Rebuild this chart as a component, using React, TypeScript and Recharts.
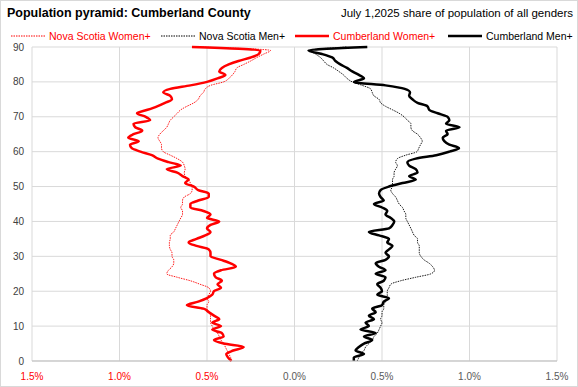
import { LineChart, Line, XAxis, YAxis, CartesianGrid } from 'recharts'

const AGES = Array.from({ length: 91 }, (_, i) => i)

// share of total population (%), ages 0..90; women drawn on the negative side
const CUMBERLAND_WOMEN = [
  -0.36, -0.38, -0.39, -0.35, -0.29, -0.405, -0.46, -0.405, -0.415, -0.47,
  -0.42, -0.47, -0.43, -0.46, -0.49, -0.52, -0.615, -0.55, -0.5, -0.47,
  -0.46, -0.42, -0.44, -0.415, -0.45, -0.46, -0.42, -0.335, -0.365, -0.42,
  -0.48, -0.48, -0.49, -0.56, -0.605, -0.56, -0.51, -0.48, -0.5, -0.48,
  -0.43, -0.5, -0.48, -0.52, -0.595, -0.595, -0.55, -0.49, -0.49, -0.55,
  -0.575, -0.625, -0.605, -0.64, -0.67, -0.73, -0.65, -0.72, -0.78, -0.815,
  -0.88, -0.93, -0.94, -0.89, -0.95, -0.92, -0.87, -0.91, -0.92, -0.825,
  -0.85, -0.9, -0.84, -0.785, -0.74, -0.7, -0.71, -0.75, -0.71, -0.595,
  -0.5, -0.44, -0.395, -0.43, -0.415, -0.376, -0.32, -0.25, -0.204, -0.195,
  -0.586,
]

const NS_WOMEN = [
  -0.36, -0.365, -0.375, -0.385, -0.395, -0.405, -0.42, -0.43, -0.44, -0.46,
  -0.47, -0.48, -0.48, -0.48, -0.49, -0.5, -0.5, -0.49, -0.5, -0.49,
  -0.48, -0.49, -0.54, -0.595, -0.67, -0.73, -0.72, -0.7, -0.69, -0.69,
  -0.7, -0.7, -0.71, -0.715, -0.715, -0.71, -0.71, -0.69, -0.68, -0.67,
  -0.66, -0.65, -0.64, -0.64, -0.65, -0.64, -0.64, -0.63, -0.595, -0.585,
  -0.585, -0.595, -0.605, -0.625, -0.63, -0.625, -0.63, -0.64, -0.67, -0.71,
  -0.75, -0.76, -0.76, -0.77, -0.78, -0.77, -0.75, -0.73, -0.72, -0.71,
  -0.69, -0.67, -0.65, -0.615, -0.575, -0.55, -0.54, -0.52, -0.51, -0.48,
  -0.405, -0.375, -0.355, -0.34, -0.33, -0.29, -0.25, -0.215, -0.175, -0.137,
  -0.55,
]

const CUMBERLAND_MEN = [
  0.339, 0.339, 0.397, 0.349, 0.368, 0.397, 0.444, 0.397, 0.464, 0.377,
  0.425, 0.406, 0.454, 0.425, 0.464, 0.444, 0.5, 0.51, 0.54, 0.473,
  0.5, 0.492, 0.473, 0.51, 0.52, 0.464, 0.52, 0.483, 0.464, 0.52,
  0.54, 0.52, 0.54, 0.56, 0.53, 0.54, 0.483, 0.425, 0.54, 0.56,
  0.57, 0.55, 0.52, 0.53, 0.5, 0.454, 0.51, 0.492, 0.483, 0.492,
  0.54, 0.617, 0.693, 0.655, 0.703, 0.693, 0.655, 0.645, 0.693, 0.81,
  0.885, 0.94, 0.885, 0.856, 0.847, 0.875, 0.866, 0.943, 0.866, 0.885,
  0.875, 0.818, 0.77, 0.76, 0.703, 0.674, 0.655, 0.66, 0.63, 0.52,
  0.34, 0.397, 0.368, 0.33, 0.3, 0.262, 0.234, 0.215, 0.157, 0.08,
  0.416,
]

const NS_MEN = [
  0.358, 0.368, 0.377, 0.397, 0.406, 0.425, 0.444, 0.454, 0.473, 0.483,
  0.492, 0.5, 0.492, 0.5, 0.5, 0.51, 0.51, 0.52, 0.53, 0.53,
  0.53, 0.54, 0.55, 0.607, 0.693, 0.78, 0.8, 0.79, 0.77, 0.74,
  0.722, 0.713, 0.713, 0.713, 0.703, 0.703, 0.684, 0.674, 0.665, 0.655,
  0.645, 0.636, 0.636, 0.626, 0.617, 0.598, 0.588, 0.578, 0.56, 0.55,
  0.56, 0.56, 0.56, 0.569, 0.569, 0.578, 0.588, 0.578, 0.588, 0.636,
  0.7, 0.71, 0.72, 0.73, 0.72, 0.703, 0.674, 0.665, 0.665, 0.645,
  0.626, 0.598, 0.56, 0.52, 0.492, 0.483, 0.454, 0.444, 0.435, 0.387,
  0.33, 0.3, 0.28, 0.253, 0.224, 0.186, 0.167, 0.148, 0.12, 0.09,
  0.3,
]

const X_TICKS = [-1.5, -1, -0.5, 0, 0.5, 1, 1.5]
const Y_TICKS = [0, 10, 20, 30, 40, 50, 60, 70, 80, 90]

const RED = '#ff0000'
const FONT = '"Liberation Sans", Arial, sans-serif'

const data = AGES.map((age, i) => ({
  age,
  nsWomen: NS_WOMEN[i],
  nsMen: NS_MEN[i],
  cbWomen: CUMBERLAND_WOMEN[i],
  cbMen: CUMBERLAND_MEN[i],
}))

function XTick({ x, y, payload }: any) {
  const v = payload.value as number
  return (
    <text x={x} y={y} dy="0.71em" textAnchor="middle" fontSize={10} fontFamily={FONT} fill={v < 0 ? RED : '#595959'}>
      {Math.abs(v).toFixed(1)}%
    </text>
  )
}

function LegendItem({ left, color, dotted, label }: { left: number; color: string; dotted?: boolean; label: string }) {
  return (
    <div style={{ position: 'absolute', left, top: 28, height: 14, display: 'flex', alignItems: 'center', whiteSpace: 'nowrap' }}>
      <svg width={34} height={6} style={{ marginRight: 4 }}>
        <line x1={0} y1={3} x2={34} y2={3} stroke={color} strokeWidth={dotted ? 1 : 2.5} strokeDasharray={dotted ? '1.5 1' : undefined} />
      </svg>
      <span style={{ color: color === RED ? RED : '#000', fontSize: 10.5 }}>{label}</span>
    </div>
  )
}

export default function App() {
  return (
    <div style={{ position: 'absolute', left: 0, top: 0, width: 578, height: 387, background: '#fff', fontFamily: FONT, boxSizing: 'border-box', border: '1px solid #d9d9d9' }}>
      <div style={{ position: 'absolute', left: 6, top: 5, fontSize: 12.5, fontWeight: 'bold', color: '#000' }}>
        Population pyramid: Cumberland County
      </div>
      <div style={{ position: 'absolute', right: 4, top: 6, fontSize: 11.5, color: '#000' }}>
        July 1,2025 share of population of all genders
      </div>
      <LegendItem left={10} color={RED} dotted label="Nova Scotia Women+" />
      <LegendItem left={160} color="#000" dotted label="Nova Scotia Men+" />
      <LegendItem left={294} color={RED} label="Cumberland Women+" />
      <LegendItem left={447} color="#000" label="Cumberland Men+" />
      <div style={{ position: 'absolute', left: -1, top: -1 }}>
        <LineChart width={578} height={387} data={data} layout="vertical" margin={{ top: 47, right: 21, bottom: 0, left: 0 }}>
          <CartesianGrid stroke="#d9d9d9" />
          <XAxis
            type="number"
            domain={[-1.5, 1.5]}
            ticks={X_TICKS}
            height={26}
            tickLine={false}
            axisLine={{ stroke: '#bfbfbf' }}
            tickMargin={6}
            tick={<XTick />}
          />
          <YAxis
            type="number"
            dataKey="age"
            domain={[0, 90]}
            ticks={Y_TICKS}
            reversed
            width={32}
            tickLine={false}
            axisLine={false}
            tick={{ fontSize: 10, fill: '#404040', fontFamily: FONT }}
          />
          <Line dataKey="nsWomen" type="monotone" stroke={RED} strokeWidth={0.9} strokeDasharray="1.5 1" dot={false} isAnimationActive={false} />
          <Line dataKey="nsMen" type="monotone" stroke="#000" strokeWidth={0.9} strokeDasharray="1.5 1" dot={false} isAnimationActive={false} />
          <Line dataKey="cbWomen" type="monotone" stroke={RED} strokeWidth={2.5} dot={false} isAnimationActive={false} />
          <Line dataKey="cbMen" type="monotone" stroke="#000" strokeWidth={2.5} dot={false} isAnimationActive={false} />
        </LineChart>
      </div>
    </div>
  )
}
